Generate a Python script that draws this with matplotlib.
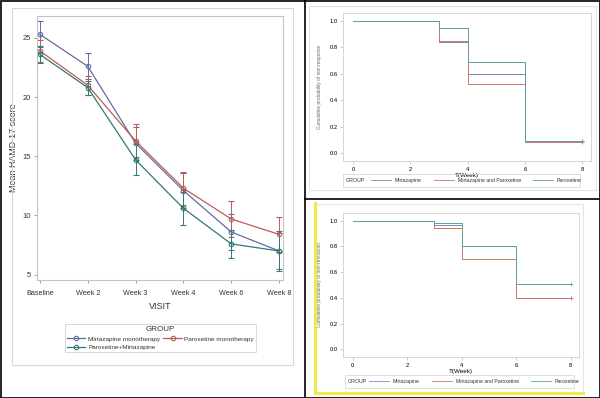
import matplotlib
matplotlib.use('Agg')
import matplotlib.pyplot as plt
from matplotlib.lines import Line2D
from matplotlib.patches import Rectangle
import numpy as np

# left panel: mean HAMD-17 by visit
visits = ['Baseline', 'Week 2', 'Week 3', 'Week 4', 'Week 6', 'Week 8']
mirt_mean = [25.3, 22.6, 16.1, 12.1, 8.6, 7.0]
mirt_err = [1.1, 1.1, 1.4, 1.5, 1.5, 1.5]
parox_mean = [23.9, 21.0, 16.3, 12.3, 9.7, 8.4]
parox_err = [0.9, 0.8, 1.4, 1.4, 1.5, 1.5]
combo_mean = [23.6, 20.8, 14.7, 10.6, 7.6, 7.0]
combo_err = [0.7, 0.6, 1.3, 1.4, 1.2, 1.7]

# right panels: KM style step curves
km_weeks = [0, 3, 4, 6, 8]
resp_mirt = [1.0, 0.84, 0.60, 0.09, 0.09]
resp_combo = [1.0, 0.85, 0.52, 0.08, 0.08]
resp_parox = [1.0, 0.95, 0.69, 0.09, 0.09]
remis_mirt = [1.0, 0.97, 0.80, 0.40, 0.40]
remis_combo = [1.0, 0.94, 0.70, 0.40, 0.40]
remis_parox = [1.0, 0.98, 0.80, 0.51, 0.51]
km_groups = ['Mirtazapine', 'Mirtazapine and Paroxetine', 'Paroxetine']

W, H = 600, 398
fig = plt.figure(figsize=(6, 3.98), dpi=100)

arial = ['Liberation Sans', 'DejaVu Sans']


def px_axes(x0, y0, x1, y1):
    return fig.add_axes([x0 / W, 1 - y1 / H, (x1 - x0) / W, (y1 - y0) / H])


def px_rect(x0, y0, x1, y1, color, lw):
    fig.patches.append(Rectangle((x0 / W, 1 - y1 / H), (x1 - x0) / W, (y1 - y0) / H,
                                 transform=fig.transFigure, fill=False,
                                 edgecolor=color, linewidth=lw))


def px_line(xs, ys, color, lw):
    fig.add_artist(Line2D([x / W for x in xs], [1 - y / H for y in ys],
                          transform=fig.transFigure, color=color, linewidth=lw))


# panel borders
px_rect(0.5, 0.5, 599.5, 397.5, 'black', 1.2)
px_line([305, 305], [0, 398], 'black', 1.2)
px_line([305, 600], [199, 199], 'black', 1.2)
px_rect(12, 8, 293, 365, '#d8d8d8', 0.8)
px_rect(309, 6, 596, 190, '#e4e4e4', 0.8)
px_rect(316, 204, 583, 392, '#e4e4e4', 0.8)
px_line([315, 315], [203, 393], '#f2e84a', 2.2)
px_line([315, 583], [393, 393], '#f2e84a', 2.2)

c_blue = '#5f6da5'
c_red = '#b85e55'
c_green = '#2d7c72'

# ---- left chart ----
ax = px_axes(37, 16, 283, 280)
x = np.arange(len(visits))
for mean, err, col in [(mirt_mean, mirt_err, c_blue),
                       (parox_mean, parox_err, c_red),
                       (combo_mean, combo_err, c_green)]:
    ax.errorbar(x, mean, yerr=err, color=col, lw=0.9, marker='o', ms=3.2,
                mfc='none', mew=0.8, ecolor=col, elinewidth=0.7, capsize=2.2,
                capthick=0.7)
ax.set_xlim(-0.06, 5.08)
ax.set_ylim(4.55, 26.85)
ax.set_yticks([5, 10, 15, 20, 25])
ax.set_xticks(x)
ax.set_xticklabels(visits, family=arial, fontsize=5.2, color='#333333')
ax.set_yticklabels(['5', '10', '15', '20', '25'], family=arial, fontsize=5.4,
                   color='#333333')
for s in ax.spines.values():
    s.set_color('#c4c4c4')
    s.set_linewidth(0.8)
ax.tick_params(length=2.5, width=0.6, color='#909090', pad=2)
ax.tick_params(axis='x', pad=5)
ax.set_xlabel('VISIT', family=arial, fontsize=6.5, labelpad=3, color='#333333')
ax.set_ylabel('Mean HAMD-17 score', family=arial, fontsize=6.4, labelpad=3.5,
              color='#333333')

h_mirt = Line2D([], [], color=c_blue, lw=0.9, marker='o', ms=3.2, mfc='none', mew=0.8)
h_parox = Line2D([], [], color=c_red, lw=0.9, marker='o', ms=3.2, mfc='none', mew=0.8)
h_combo = Line2D([], [], color=c_green, lw=0.9, marker='o', ms=3.2, mfc='none', mew=0.8)
leg = fig.legend([h_mirt, h_combo, h_parox],
                 ['Mirtazapine monotherapy', 'Paroxetine+Mirtazapine', 'Paroxetine monotherapy'],
                 ncol=2, loc='center', bbox_to_anchor=(160.5 / W, 1 - 338 / H),
                 title='GROUP', prop={'family': arial, 'size': 4.6},
                 title_fontproperties={'family': arial, 'size': 5.8},
                 frameon=True, fancybox=False, edgecolor='#c8c8c8',
                 handlelength=2.9, handletextpad=0.4, columnspacing=0.5,
                 labelspacing=0.45, borderpad=0.35, alignment='center')
leg.get_frame().set_linewidth(0.6)
for t in leg.get_texts():
    t.set_color('#333333')
leg.get_title().set_color('#333333')


# ---- right charts ----
def km_panel(rect, curves, ylab, leg_box):
    ax = px_axes(*rect)
    for vals, col in curves:
        ax.step(km_weeks, vals, where='post', color=col, lw=0.7)
        ax.plot([km_weeks[-1]], [vals[-1]], marker='+', ms=2.5, mew=0.5, color=col)
    ax.set_xlim(-0.35, 8.3)
    ax.set_ylim(-0.06, 1.06)
    ax.set_xticks([0, 2, 4, 6, 8])
    ax.set_yticks([0.0, 0.2, 0.4, 0.6, 0.8, 1.0])
    ax.set_yticklabels(['0.0', '0.2', '0.4', '0.6', '0.8', '1.0'])
    for s in ax.spines.values():
        s.set_color('#d0d0d0')
        s.set_linewidth(0.6)
    ax.tick_params(labelsize=4.2, length=2, width=0.4, color='#a0a0a0', pad=2)
    for lab in ax.get_xticklabels() + ax.get_yticklabels():
        lab.set_family(arial)
    ax.set_xlabel('T(Week)', family=arial, fontsize=4.5, labelpad=1)
    ax.set_ylabel(ylab, family=arial, fontsize=3.4, color='#666666', labelpad=5)
    # legend box with GROUP label on the left
    bx0, by0, bx1, by1 = leg_box
    px_rect(bx0, by0, bx1, by1, '#d0d0d0', 0.5)
    fig.text((bx0 + 3) / W, 1 - (by0 + by1) / 2 / H, 'GROUP', family=arial,
             fontsize=3.8, va='center', ha='left', color='#333333')
    hs = [Line2D([], [], color=c, lw=0.6) for _, c in curves]
    lg = fig.legend(hs, km_groups, ncol=3, loc='center',
                    bbox_to_anchor=((bx0 + 30 + bx1) / 2 / W, 1 - (by0 + by1) / 2 / H),
                    prop={'family': arial, 'size': 3.7}, frameon=False,
                    handlelength=3.8, handletextpad=0.8, columnspacing=2.4,
                    borderpad=0.1)
    for t in lg.get_texts():
        t.set_color('#333333')
    return ax


km_panel((343, 13, 591, 161),
         [(resp_mirt, '#7d8abb'), (resp_combo, '#d27468'), (resp_parox, '#5c9ea6')],
         'Cumulative probability of non-response', (343, 174, 580, 187))
km_panel((343, 213, 579, 357),
         [(remis_mirt, '#7d8abb'), (remis_combo, '#d27468'), (remis_parox, '#5c9ea6')],
         'Cumulative probability of non-remission', (345, 375, 574, 388))

fig.savefig('out.png', dpi=100)
